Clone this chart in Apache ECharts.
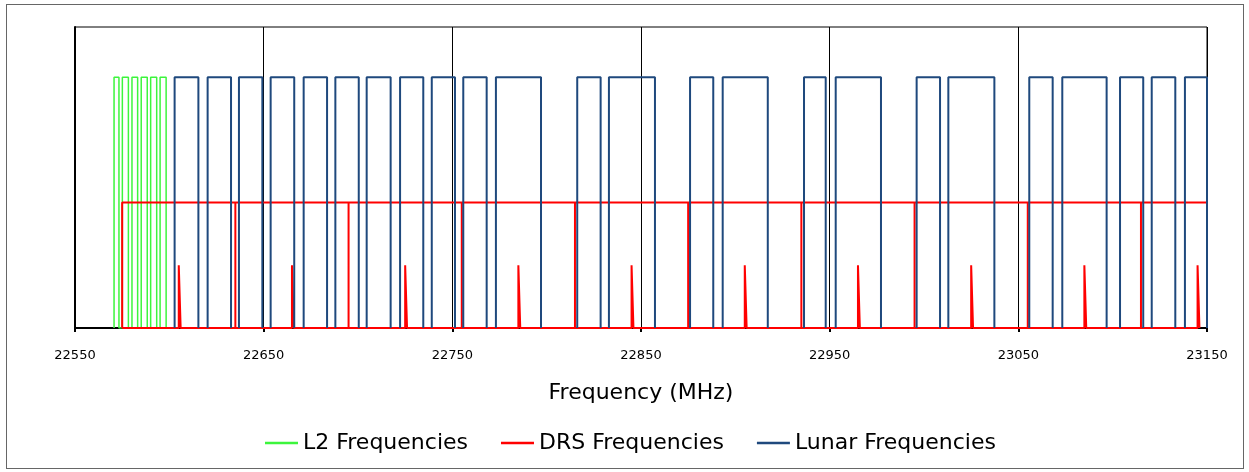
<!DOCTYPE html>
<html>
<head>
<meta charset="utf-8">
<script src="https://cdn.jsdelivr.net/npm/echarts@6/dist/echarts.min.js"></script>
<style>
  html, body { margin: 0; padding: 0; background: #fff; }
  #chart { position: absolute; left: 0; top: 0; width: 1249px; height: 472px; }
  #frame { position: absolute; left: 6px; top: 4px; width: 1236px; height: 463px; border: 1px solid #666; pointer-events: none; }
</style>
</head>
<body>
<div id="chart"></div>
<div id="frame"></div>
<script>
// Frecuencias (MHz)
var l2Start = [22570.7, 22575.1, 22580.2, 22585.1, 22590.1, 22595.1];
var l2End   = [22573.3, 22578.3, 22583.2, 22588.3, 22593.3, 22598.3];

var drsEdges  = [22575, 22635, 22695, 22755, 22815, 22875, 22935, 22995, 23055, 23115, 23175];
var drsPilots = [22605, 22665, 22725, 22785, 22845, 22905, 22965, 23025, 23085, 23145];

var lunarStart = [22602.8, 22620.3, 22636.9, 22653.7, 22671.2, 22688.0, 22704.6, 22722.3,
                  22739.1, 22755.8, 22773.1, 22816.2, 22833.0, 22876.0, 22893.3, 22936.4,
                  22953.2, 22996.1, 23012.9, 23055.8, 23073.3, 23103.9, 23120.7, 23138.3];
var lunarEnd   = [22615.4, 22632.7, 22649.3, 22666.2, 22683.6, 22700.4, 22717.3, 22734.6,
                  22751.4, 22768.2, 22797.0, 22828.6, 22857.4, 22888.3, 22917.2, 22947.9,
                  22977.2, 23008.5, 23037.3, 23068.2, 23096.8, 23116.2, 23133.2, 23150.0];

var xTicks = [22550, 22650, 22750, 22850, 22950, 23050, 23150];

var alturaL2 = 1, alturaLunar = 1, alturaDRS = 0.5, alturaPiloto = 0.25;
var anchoPiloto = 1.0;

// Construye el trazo de pulsos rectangulares
function pulsos(inicios, finales, h, unidos) {
  var puntos = [];
  inicios.forEach(function (s, i) {
    var e = finales[i];
    if (!unidos && i > 0) puntos.push(['-', '-']);
    puntos.push([s, 0], [s, h], [e, h], [e, 0]);
  });
  return puntos;
}

function trazoDRS() {
  var puntos = [];
  for (var i = 0; i < drsEdges.length - 1; i++) {
    var L = drsEdges[i], R = drsEdges[i + 1];
    puntos.push([L, 0], [L, alturaDRS], [R, alturaDRS], [R, 0]);
  }
  puntos.push(['-', '-']);
  puntos.push([drsEdges[0], 0]);
  drsPilots.forEach(function (p) {
    puntos.push([p, 0], [p, alturaPiloto], [p + anchoPiloto, alturaPiloto], [p + anchoPiloto, 0]);
  });
  return puntos;
}

var fuente = 'DejaVu Sans';
var chart = echarts.init(document.getElementById('chart'));

var option = {
  animation: false,
  grid: {
    left: 75, right: 42, top: 27, height: 301,
    show: true, borderColor: '#000', borderWidth: 1
  },
  legend: {
    data: ['L2 Frequencies', 'DRS Frequencies', 'Lunar Frequencies'],
    left: 265, top: 432, padding: 0,
    icon: 'rect',
    itemWidth: 33, itemHeight: 2.5, itemGap: 33,
    textStyle: { fontFamily: fuente, fontSize: 22, color: '#000' }
  },
  xAxis: {
    type: 'value',
    min: xTicks[0], max: xTicks[xTicks.length - 1], interval: 100,
    name: 'Frequency (MHz)',
    nameLocation: 'middle',
    nameGap: 54,
    nameTextStyle: { fontFamily: fuente, fontSize: 22, color: '#000' },
    axisLine: { lineStyle: { color: '#000', width: 2 } },
    axisTick: { show: true, length: 4, lineStyle: { color: '#000', width: 2 } },
    axisLabel: {
      fontFamily: fuente, fontSize: 13, color: '#000', margin: 21,
      showMinLabel: true, showMaxLabel: true,
      formatter: function (v) { return String(v); }
    },
    splitLine: { show: true, lineStyle: { color: '#000', width: 1 } }
  },
  yAxis: {
    type: 'value', min: 0, max: 1.2,
    axisLine: { show: true, lineStyle: { color: '#000', width: 2 } },
    axisTick: { show: false },
    axisLabel: { show: false },
    splitLine: { show: false }
  },
  series: [
    {
      name: 'L2 Frequencies', type: 'line', symbol: 'none',
      data: pulsos(l2Start, l2End, alturaL2, true),
      lineStyle: { color: '#3CF53C', width: 1.5 }, itemStyle: { color: '#3CF53C' }
    },
    {
      name: 'DRS Frequencies', type: 'line', symbol: 'none',
      data: trazoDRS(),
      lineStyle: { color: '#FF0000', width: 2 }, itemStyle: { color: '#FF0000' }
    },
    {
      name: 'Lunar Frequencies', type: 'line', symbol: 'none',
      data: pulsos(lunarStart, lunarEnd, alturaLunar, false),
      lineStyle: { color: '#1F497D', width: 2 }, itemStyle: { color: '#1F497D' }
    }
  ]
};

chart.setOption(option);
</script>
</body>
</html>
